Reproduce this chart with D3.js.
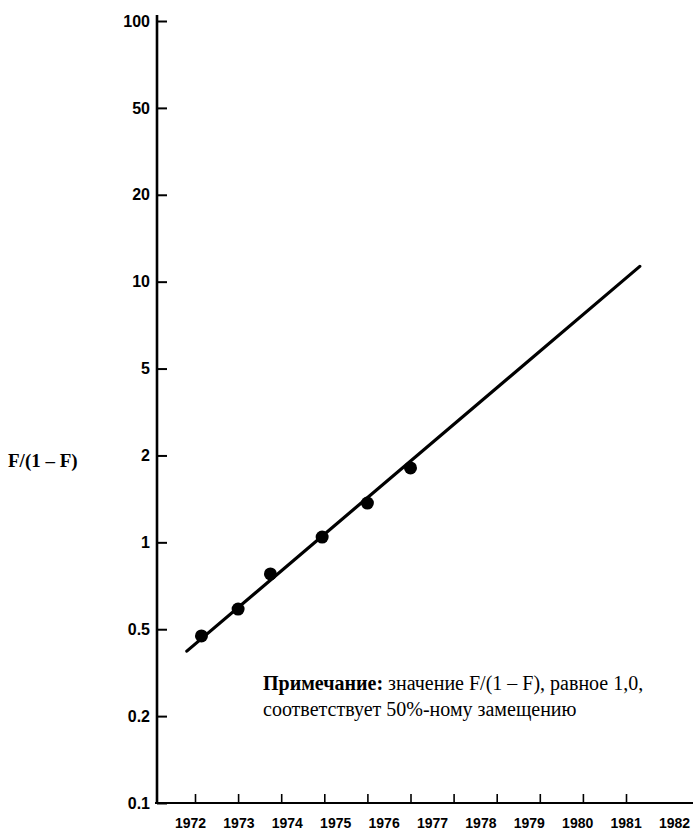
<!DOCTYPE html>
<html>
<head>
<meta charset="utf-8">
<script src="https://cdn.jsdelivr.net/npm/d3@7"></script>
<style>
  html, body { margin: 0; padding: 0; background: #fff; }
  svg { display: block; }
</style>
</head>
<body>
<svg id="chart" width="693" height="831"></svg>
<script>
// ---- data ----
const years = [1972, 1973, 1974, 1975, 1976, 1977, 1978, 1979, 1980, 1981, 1982];
const yTickValues = [0.1, 0.2, 0.5, 1, 2, 5, 10, 20, 50, 100];
const yTickLabels = ["0.1", "0.2", "0.5", "1", "2", "5", "10", "20", "50", "100"];
const pointYears = [1972.15, 1973.0, 1973.75, 1974.95, 1976.0, 1977.0];
const pointValues = [0.466, 0.587, 0.777, 1.043, 1.368, 1.81];
const fitYears = [1971.81, 1982.32];
const fitValues = [0.397, 11.3];
const yTitle = "F/(1 \u2013 F)";
const noteBold = "Примечание:";
const noteLine1 = " значение F/(1 \u2013 F), равное 1,0,";
const noteLine2 = "соответствует 50%-ному замещению";

// ---- layout ----
const svg = d3.select("#chart");
const axisX = 157, yBottom = 803, yTop = 21;
const step = (yBottom - yTop) / (yTickValues.length - 1);

// piecewise log scale: ticks evenly spaced as in the original
const y = d3.scaleLog()
  .domain(yTickValues)
  .range(yTickValues.map((d, i) => yBottom - i * step));

// x scale for ticks / marks, and a label scale (labels offset in the original print)
const x = d3.scaleLinear().domain([1972, 1982]).range([195, 626]);
const xLab = d3.scaleLinear().domain([1972, 1982]).range([190, 674]);

// y axis
const gy = svg.append("g").attr("transform", `translate(${axisX},0)`)
  .call(d3.axisLeft(y).tickValues(yTickValues)
    .tickFormat((d, i) => yTickLabels[i]).tickSize(-10).tickPadding(7));
gy.select(".domain").remove();
gy.selectAll(".tick line").attr("stroke", "#000").attr("stroke-width", 2);
gy.selectAll(".tick text")
  .attr("font-family", "Liberation Sans, Arial, sans-serif")
  .attr("font-weight", "bold").attr("font-size", 16).attr("fill", "#000");
svg.append("line")
  .attr("x1", axisX).attr("x2", axisX)
  .attr("y1", y(100) - 6).attr("y2", y(0.1) + 1)
  .attr("stroke", "#000").attr("stroke-width", 2.6);

// x axis ticks
const gx = svg.append("g").attr("transform", `translate(0,${yBottom})`)
  .call(d3.axisTop(x).tickValues(years).tickFormat("").tickSize(9));
gx.select(".domain").remove();
gx.selectAll(".tick line").attr("stroke", "#000").attr("stroke-width", 1.6);
svg.append("line")
  .attr("x1", axisX - 2).attr("x2", 693)
  .attr("y1", yBottom).attr("y2", yBottom)
  .attr("stroke", "#000").attr("stroke-width", 2);

// x axis labels
const gxl = svg.append("g").attr("transform", `translate(0,${yBottom})`)
  .call(d3.axisBottom(xLab).tickValues(years).tickFormat(d3.format("d")).tickSize(0).tickPadding(15));
gxl.select(".domain").remove();
gxl.selectAll(".tick text")
  .attr("font-family", "Liberation Sans, Arial, sans-serif")
  .attr("font-weight", "bold").attr("font-size", 14).attr("fill", "#000");

// fitted line
const line = d3.line().x(d => x(d[0])).y(d => y(d[1]));
svg.append("path")
  .datum(fitYears.map((d, i) => [d, fitValues[i]]))
  .attr("d", line)
  .attr("fill", "none").attr("stroke", "#000").attr("stroke-width", 3.2)
  .attr("stroke-linecap", "round");

// points
svg.append("g").selectAll("circle")
  .data(pointYears.map((d, i) => [d, pointValues[i]]))
  .join("circle")
  .attr("cx", d => x(d[0])).attr("cy", d => y(d[1])).attr("r", 6.5)
  .attr("fill", "#000");

// y title
svg.append("text")
  .attr("x", 8).attr("y", 467)
  .attr("font-family", "Liberation Serif, Times New Roman, serif")
  .attr("font-weight", "bold").attr("font-size", 19).attr("fill", "#000")
  .text(yTitle);

// note
const note = svg.append("text")
  .attr("x", 263).attr("y", 690)
  .attr("font-family", "Liberation Serif, Times New Roman, serif")
  .attr("font-size", 20).attr("fill", "#000");
note.append("tspan").attr("font-weight", "900").text(noteBold);
note.append("tspan").text(noteLine1);
svg.append("text")
  .attr("x", 263).attr("y", 716)
  .attr("font-family", "Liberation Serif, Times New Roman, serif")
  .attr("font-size", 20).attr("fill", "#000")
  .text(noteLine2);
</script>
</body>
</html>
